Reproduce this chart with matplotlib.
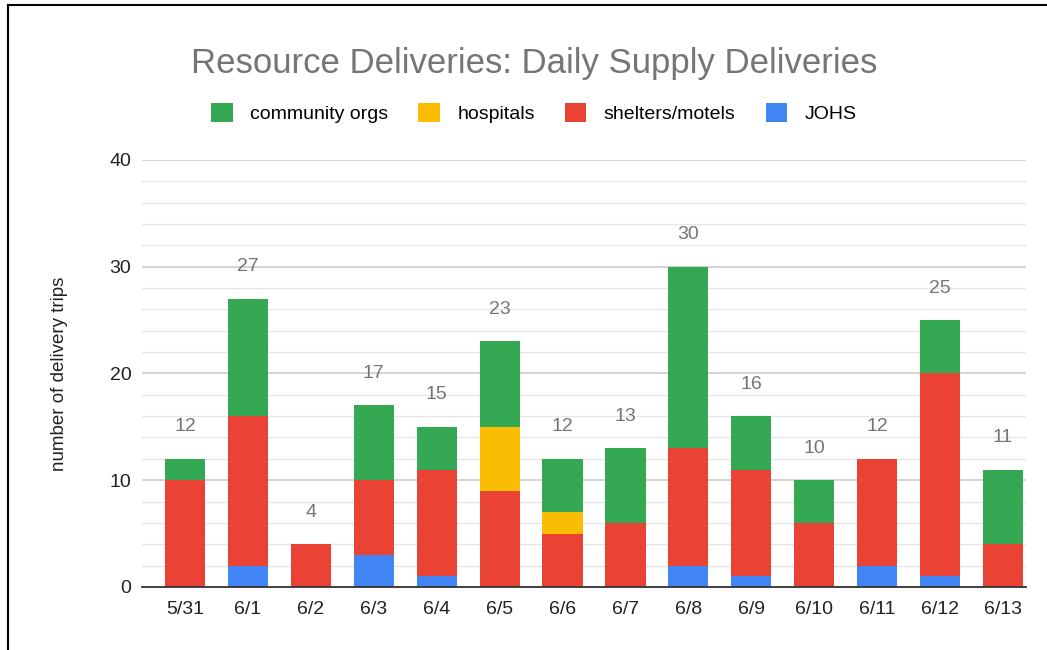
import numpy as np
import matplotlib.pyplot as plt
from matplotlib.ticker import MultipleLocator

plt.rcParams['font.family'] = ['Liberation Sans', 'DejaVu Sans']

days = ["5/31", "6/1", "6/2", "6/3", "6/4", "6/5", "6/6",
        "6/7", "6/8", "6/9", "6/10", "6/11", "6/12", "6/13"]
johs = [0, 2, 0, 3, 1, 0, 0, 0, 2, 1, 0, 2, 1, 0]
shelters = [10, 14, 4, 7, 10, 9, 5, 6, 11, 10, 6, 10, 19, 4]
hospitals = [0, 0, 0, 0, 0, 6, 2, 0, 0, 0, 0, 0, 0, 0]
community = [2, 11, 0, 7, 4, 8, 5, 7, 17, 5, 4, 0, 5, 7]

series = [("JOHS", johs, "#4285F4"),
          ("shelters/motels", shelters, "#EA4335"),
          ("hospitals", hospitals, "#FBBC04"),
          ("community orgs", community, "#34A853")]

fig = plt.figure(figsize=(10.47, 6.5), dpi=100)
ax = fig.add_axes([0.136, 0.097, 0.844, 0.657])

x = np.arange(len(days))
bottom = np.zeros(len(days))
handles = {}
for name, vals, color in series:
    vals = np.array(vals, dtype=float)
    b = ax.bar(x, vals, 0.64, bottom=bottom, color=color, zorder=3, label=name)
    handles[name] = b
    bottom += vals

for xi, tot in zip(x, bottom):
    ax.text(xi, tot + 2.2, f"{int(tot)}", ha="center", va="bottom",
            fontsize=14, color="#757575", zorder=4)

ax.set_xlim(-0.68, len(days) - 0.63)
ax.set_ylim(0, 40)
ax.yaxis.set_major_locator(MultipleLocator(10))
ax.yaxis.set_minor_locator(MultipleLocator(2))
ax.grid(axis="y", which="major", color="#cccccc", lw=1.2, zorder=0)
ax.grid(axis="y", which="minor", color="#e6e6e6", lw=1.0, zorder=0)
for s in ["top", "right", "left"]:
    ax.spines[s].set_visible(False)
ax.spines["bottom"].set_color("#333333")
ax.spines["bottom"].set_linewidth(1.3)
ax.spines["bottom"].set_zorder(5)
ax.tick_params(axis="both", which="both", length=0, labelsize=14, colors="#222222")
ax.tick_params(axis="y", pad=8)
ax.tick_params(axis="x", pad=10)
ax.set_xticks(x)
ax.set_xticklabels(days)
ax.set_ylabel("number of delivery trips", fontsize=13.5, color="#222222", labelpad=30)

fig.suptitle("Resource Deliveries: Daily Supply Deliveries", x=0.51, y=0.928,
             fontsize=25, color="#757575")

order = ["community orgs", "hospitals", "shelters/motels", "JOHS"]
fig.legend([handles[n] for n in order], order, loc="center", ncol=4,
           bbox_to_anchor=(0.51, 0.826), frameon=False, fontsize=14,
           handlelength=1.1, handleheight=1.1, columnspacing=1.55, handletextpad=0.9)

# black border on left and top
fig.add_artist(plt.Line2D([0.0076, 0.0076], [0, 0.992], color="black", lw=1.5,
                          transform=fig.transFigure))
fig.add_artist(plt.Line2D([0.0076, 1.0], [0.992, 0.992], color="black", lw=1.5,
                          transform=fig.transFigure))

fig.savefig("out.png", dpi=100)
